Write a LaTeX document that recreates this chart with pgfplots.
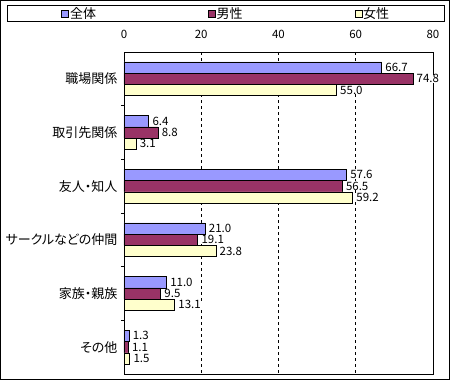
\documentclass[border=0pt]{standalone}
\usepackage{pgfplots}
\pgfplotsset{compat=1.18}
\usepackage{fontspec}
\setmainfont[RawFeature=+palt]{Noto Sans CJK JP}
\definecolor{cAll}{HTML}{9999FF}
\definecolor{cMale}{HTML}{993366}
\definecolor{cFemale}{HTML}{FFFFCC}
\pgfplotsset{/pgf/number format/assume math mode=true}
\begin{document}
\begin{tikzpicture}[x=1pt,y=1pt,font=\fontsize{13pt}{15pt}\selectfont]
\useasboundingbox (0,0) rectangle (450,-380);
\draw[line width=1pt] (0.5,-0.5) rectangle (449.5,-379.5);
\begin{axis}[
  at={(124pt,-52pt)}, anchor=north west,
  scale only axis, width=309pt, height=322pt,
  font=\fontsize{13pt}{15pt}\selectfont,
  xbar, xmin=0, xmax=80, xtick={0,20,40,60,80},
  xticklabel pos=upper,
  xticklabel style={yshift=10pt, font=\fontsize{11.5pt}{13pt}\selectfont},
  ymin=-0.5, ymax=5.5, y dir=reverse,
  ytick={0,1,2,3,4,5},
  yticklabels={職場関係,取引先関係,友人・知人,サークルなどの仲間,家族・親族,その他},
  yticklabel style={xshift=-3pt},
  minor ytick={0.5,1.5,2.5,3.5,4.5},
  ytick pos=left,
  major tick length=0pt, minor tick length=3pt, tick align=outside,
  xmajorgrids, grid style={dashed, black, line width=0.6pt},
  axis line style={black, line width=0.8pt},
  tick style={black, line width=0.8pt},
  bar width=11.3pt,
  nodes near coords={\pgfmathprintnumber[fixed,fixed zerofill,precision=1]{\pgfplotspointmeta}},
  point meta=x,
  every node near coord/.append style={black, fill=white, inner xsep=1pt, inner ysep=0pt, xshift=2.5pt, font=\fontsize{11.5pt}{13pt}\selectfont},
  legend columns=3,
  legend style={at={(axis description cs:-0.3786,1.146)}, anchor=north west,
    draw=black, line width=0.8pt, inner xsep=54pt, inner ysep=1pt,
    /tikz/every even column/.append style={column sep=111pt},
    nodes={inner sep=1pt}},
  legend image code/.code={\draw[#1, line width=0.6pt] (0pt,-3.5pt) rectangle (7pt,3.5pt);},
]
\addplot[fill=cAll, draw=black, line width=0.6pt, bar shift=11.3pt] coordinates {(66.7,0) (6.4,1) (57.6,2) (21.0,3) (11.0,4) (1.3,5)};
\addlegendentry{全体}
\addplot[fill=cMale, draw=black, line width=0.6pt, bar shift=0pt] coordinates {(74.8,0) (8.8,1) (56.5,2) (19.1,3) (9.5,4) (1.1,5)};
\addlegendentry{男性}
\addplot[fill=cFemale, draw=black, line width=0.6pt, bar shift=-11.3pt] coordinates {(55.0,0) (3.1,1) (59.2,2) (23.8,3) (13.1,4) (1.5,5)};
\addlegendentry{女性}
\end{axis}
\end{tikzpicture}
\end{document}
